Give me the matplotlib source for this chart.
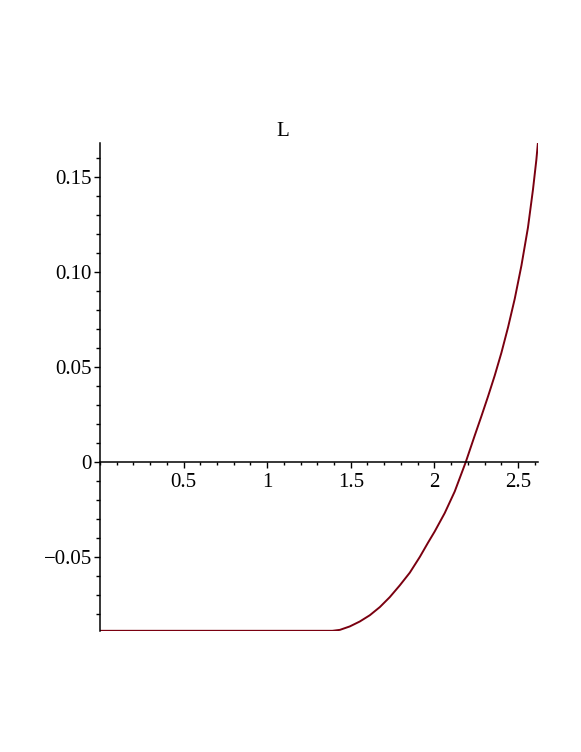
import matplotlib
matplotlib.use("Agg")
import matplotlib.pyplot as plt
from matplotlib.ticker import FixedLocator, FixedFormatter, MultipleLocator

# Curve points
x_vals = [0.0, 1.390, 1.435, 1.494, 1.554, 1.614, 1.674, 1.733, 1.793, 1.853,
          1.913, 1.962, 2.002, 2.062, 2.122, 2.188, 2.241, 2.281, 2.321, 2.361,
          2.401, 2.441, 2.481, 2.521, 2.560, 2.590, 2.610, 2.620]
y_vals = [-0.0889, -0.0889, -0.0884, -0.0866, -0.0840, -0.0807, -0.0764, -0.0712,
          -0.0650, -0.0583, -0.0500, -0.0425, -0.0366, -0.0269, -0.0155, 0.0000,
          0.0138, 0.0240, 0.0345, 0.0455, 0.0575, 0.0710, 0.0860, 0.1035,
          0.1235, 0.1435, 0.1590, 0.1685]

x_ticks = [0.5, 1.0, 1.5, 2.0, 2.5]
x_labels = ["0.5", "1", "1.5", "2", "2.5"]
y_ticks = [-0.05, 0.0, 0.05, 0.10, 0.15]
y_labels = ["\u22120.05", "0", "0.05", "0.10", "0.15"]
title = "L"

plt.rcParams["font.family"] = ["Liberation Serif", "DejaVu Serif"]

fig = plt.figure(figsize=(5.81, 7.52), dpi=100)
ax = fig.add_axes([100 / 581, 1 - 631 / 752, 438 / 581, 488 / 752])

ax.plot(x_vals, y_vals, color="#7a0010", lw=1.4, solid_capstyle="butt",
        solid_joinstyle="round")

ax.set_xlim(0, 2.62)
ax.set_ylim(-0.089, 0.168)

for s in ["top", "right"]:
    ax.spines[s].set_visible(False)
ax.spines["left"].set_position(("data", 0))
ax.spines["bottom"].set_position(("data", 0))
for s in ["left", "bottom"]:
    ax.spines[s].set_linewidth(1.1)
    ax.spines[s].set_color("black")

ax.xaxis.set_major_locator(FixedLocator(x_ticks))
ax.xaxis.set_major_formatter(FixedFormatter(x_labels))
ax.xaxis.set_minor_locator(MultipleLocator(0.1))
ax.yaxis.set_major_locator(FixedLocator(y_ticks))
ax.yaxis.set_major_formatter(FixedFormatter(y_labels))
ax.yaxis.set_minor_locator(MultipleLocator(0.01))

ax.tick_params(axis="x", which="major", direction="out", length=4.3, width=1.0,
               labelsize=15, pad=3.5)
ax.tick_params(axis="x", which="minor", direction="out", length=2.2, width=1.0)
ax.tick_params(axis="y", which="major", direction="out", length=4.3, width=1.0,
               labelsize=15, pad=1.5)
ax.tick_params(axis="y", which="minor", direction="out", length=2.6, width=1.0)

fig.text(283 / 581, 1 - 131 / 752, title, ha="center", va="center", fontsize=15)

fig.savefig("out.png", dpi=100)
